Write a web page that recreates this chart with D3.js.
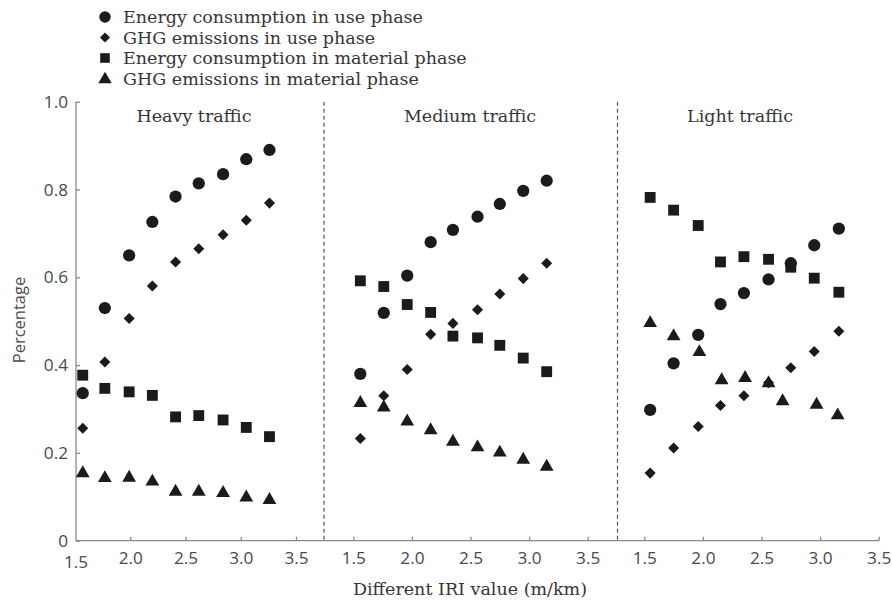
<!DOCTYPE html>
<html>
<head>
<meta charset="utf-8">
<script src="https://cdn.jsdelivr.net/npm/d3@7"></script>
<style>
  html, body { margin: 0; padding: 0; background: #fff; }
  svg { display: block; }
</style>
</head>
<body>
<svg id="chart" width="892" height="602"></svg>
<script>
// ---- data -------------------------------------------------------------
const panels = ["Heavy traffic", "Medium traffic", "Light traffic"];
const seriesNames = [
  "Energy consumption in use phase",
  "GHG emissions in use phase",
  "Energy consumption in material phase",
  "GHG emissions in material phase"
];
const xTicks = [1.5, 2.0, 2.5, 3.0, 3.5];
const yTicks = [0, 0.2, 0.4, 0.6, 0.8, 1.0];

// IRI values (m/km) of the points in each panel
const heavyIRI  = [1.57, 1.77, 1.99, 2.20, 2.41, 2.62, 2.84, 3.05, 3.26];
const mediumIRI = [1.56, 1.76, 1.96, 2.16, 2.35, 2.56, 2.75, 2.95, 3.15];
const lightIRI  = [1.55, 1.75, 1.96, 2.15, 2.35, 2.56, 2.75, 2.95, 3.16];
const lightGhgMaterialIRI = [1.55, 1.75, 1.97, 2.16, 2.36, 2.56, 2.68, 2.97, 3.15];

// Heavy traffic
const heavyEnergyUse      = [0.336, 0.530, 0.650, 0.726, 0.784, 0.814, 0.835, 0.869, 0.890];
const heavyGhgUse         = [0.256, 0.407, 0.506, 0.580, 0.635, 0.665, 0.697, 0.730, 0.769];
const heavyEnergyMaterial = [0.377, 0.347, 0.339, 0.331, 0.282, 0.285, 0.275, 0.258, 0.237];
const heavyGhgMaterial    = [0.157, 0.146, 0.147, 0.138, 0.115, 0.115, 0.112, 0.102, 0.096];

// Medium traffic
const mediumEnergyUse      = [0.380, 0.519, 0.604, 0.680, 0.708, 0.738, 0.767, 0.797, 0.820];
const mediumGhgUse         = [0.233, 0.330, 0.390, 0.470, 0.495, 0.526, 0.562, 0.597, 0.632];
const mediumEnergyMaterial = [0.592, 0.579, 0.538, 0.520, 0.466, 0.462, 0.445, 0.416, 0.385];
const mediumGhgMaterial    = [0.317, 0.307, 0.275, 0.255, 0.229, 0.216, 0.204, 0.188, 0.172];

// Light traffic
const lightEnergyUse      = [0.298, 0.404, 0.469, 0.539, 0.564, 0.595, 0.632, 0.673, 0.711];
const lightGhgUse         = [0.154, 0.211, 0.260, 0.308, 0.330, 0.360, 0.394, 0.431, 0.477];
const lightEnergyMaterial = [0.782, 0.753, 0.718, 0.635, 0.647, 0.641, 0.623, 0.598, 0.566];
const lightGhgMaterial    = [0.499, 0.469, 0.433, 0.369, 0.374, 0.362, 0.321, 0.313, 0.289];

// ---- layout -----------------------------------------------------------
const svg = d3.select("#chart");
const yTop = 101.7, yBottom = 540.7;
const axisLeft = 76, axisRight = 879;
const panelEdges = [axisLeft, 324, 617.5, axisRight];

const y = d3.scaleLinear().domain([0, 1]).range([yBottom, yTop]);

// each panel has its own horizontal IRI scale
const xScales = [
  d3.scaleLinear().domain([1.5, 3.5]).range([75, 296]),
  d3.scaleLinear().domain([1.5, 3.5]).range([353.3, 587.7]),
  d3.scaleLinear().domain([1.5, 3.5]).range([644.3, 878.7])
];

const panelData = [
  [
    { iri: heavyIRI, values: heavyEnergyUse },
    { iri: heavyIRI, values: heavyGhgUse },
    { iri: heavyIRI, values: heavyEnergyMaterial },
    { iri: heavyIRI, values: heavyGhgMaterial }
  ],
  [
    { iri: mediumIRI, values: mediumEnergyUse },
    { iri: mediumIRI, values: mediumGhgUse },
    { iri: mediumIRI, values: mediumEnergyMaterial },
    { iri: mediumIRI, values: mediumGhgMaterial }
  ],
  [
    { iri: lightIRI, values: lightEnergyUse },
    { iri: lightIRI, values: lightGhgUse },
    { iri: lightIRI, values: lightEnergyMaterial },
    { iri: lightGhgMaterialIRI, values: lightGhgMaterial }
  ]
];

const symbolTypes = [d3.symbolCircle, d3.symbolDiamond2, d3.symbolSquare, d3.symbolTriangle];
const symbolSizes = [118, 78, 118, 82];
const symbolOffsetY = [0, 0, 0, 1.5];
const markColor = "#1b1b1b";
const axisColor = "#8a8a8a";
const textColor = "#4a4a4a";
const serifColor = "#353535";
const sansFont = "'Open Sans', 'Noto Sans', sans-serif";
const serifFont = "'DejaVu Serif', 'Liberation Serif', serif";
const sansSize = 17.2;
const serifSize = 17.5;

// ---- legend -----------------------------------------------------------
const legend = svg.append("g");
seriesNames.forEach((name, i) => {
  const ly = 17 + i * 20.5;
  legend.append("path")
    .attr("d", d3.symbol(symbolTypes[i], [104, 66, 92, 78][i])())
    .attr("transform", `translate(105,${ly + (i === 3 ? 1 : 0)})`)
    .attr("fill", markColor);
  legend.append("text")
    .attr("x", 123).attr("y", ly)
    .attr("dy", "0.35em")
    .attr("font-family", serifFont)
    .attr("font-size", serifSize)
    .attr("fill", serifColor)
    .text(name);
});

// ---- axes -------------------------------------------------------------
const yAxis = d3.axisLeft(y)
  .tickValues(yTicks)
  .tickSize(-4)
  .tickPadding(8)
  .tickFormat(d => d === 0 ? "0" : d3.format(".1f")(d));

const yg = svg.append("g")
  .attr("transform", `translate(${axisLeft},0)`)
  .call(yAxis);
yg.select(".domain").remove();
yg.append("line")
  .attr("x1", 0).attr("x2", 0)
  .attr("y1", y(1)).attr("y2", y(0))
  .attr("stroke", axisColor).attr("stroke-width", 1.3);
yg.selectAll(".tick line").attr("stroke", axisColor).attr("stroke-width", 1.3);
yg.selectAll(".tick text")
  .attr("font-family", sansFont).attr("font-size", sansSize).attr("fill", textColor);

// shared baseline
svg.append("line")
  .attr("x1", axisLeft).attr("x2", axisRight)
  .attr("y1", yBottom).attr("y2", yBottom)
  .attr("stroke", axisColor).attr("stroke-width", 1.3);

xScales.forEach((xs, p) => {
  const ticks = p === 0 ? xTicks.slice(1) : xTicks;
  const xg = svg.append("g")
    .attr("transform", `translate(0,${yBottom})`)
    .call(d3.axisBottom(xs).tickValues(ticks).tickSize(-4).tickPadding(11).tickFormat(d3.format(".1f")));
  xg.select(".domain").remove();
  xg.selectAll(".tick line").attr("stroke", axisColor).attr("stroke-width", 1.3);
  xg.selectAll(".tick text")
    .attr("font-family", sansFont).attr("font-size", sansSize).attr("fill", textColor);
  if (p === 0) {
    // the first tick label sits under the vertical axis
    xg.append("text")
      .attr("x", xs(1.5) + 1).attr("y", 15).attr("dy", "0.71em")
      .attr("text-anchor", "middle")
      .attr("font-family", sansFont).attr("font-size", sansSize).attr("fill", textColor)
      .text(d3.format(".1f")(1.5));
  }
});

// dashed panel separators
[panelEdges[1], panelEdges[2]].forEach(px => {
  svg.append("line")
    .attr("x1", px).attr("x2", px)
    .attr("y1", yTop).attr("y2", yBottom)
    .attr("stroke", "#555").attr("stroke-width", 1.2)
    .attr("stroke-dasharray", "4,3");
});

// panel titles
panels.forEach((title, p) => {
  svg.append("text")
    .attr("x", [194, 470, 740][p]).attr("y", 115.5)
    .attr("dy", "0.35em")
    .attr("text-anchor", "middle")
    .attr("font-family", serifFont)
    .attr("font-size", serifSize)
    .attr("fill", serifColor)
    .text(title);
});

// axis titles
svg.append("text")
  .attr("transform", `translate(19,320) rotate(-90)`)
  .attr("dy", "0.35em")
  .attr("text-anchor", "middle")
  .attr("font-family", sansFont).attr("font-size", 16.5).attr("fill", textColor)
  .text("Percentage");

svg.append("text")
  .attr("x", 470).attr("y", 589)
  .attr("dy", "0.35em")
  .attr("text-anchor", "middle")
  .attr("font-family", serifFont).attr("font-size", serifSize).attr("fill", serifColor)
  .text("Different IRI value (m/km)");

// ---- points -----------------------------------------------------------
panelData.forEach((series, p) => {
  const xs = xScales[p];
  series.forEach((s, i) => {
    const pts = s.values.map((v, k) => ({ x: s.iri[k], v }));
    svg.append("g").selectAll("path")
      .data(pts)
      .join("path")
      .attr("d", d3.symbol(symbolTypes[i], symbolSizes[i])())
      .attr("transform", d => `translate(${xs(d.x)},${y(d.v) + symbolOffsetY[i]})`)
      .attr("fill", markColor);
  });
});
</script>
</body>
</html>
